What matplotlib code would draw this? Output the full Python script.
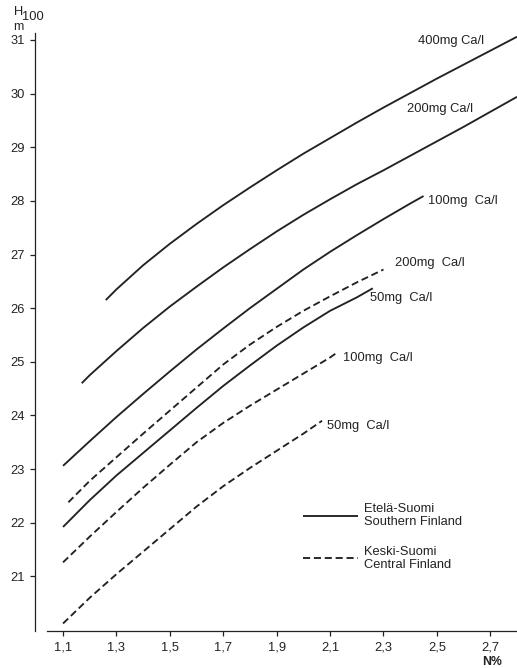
import matplotlib
matplotlib.use("Agg")
import matplotlib.pyplot as plt
from matplotlib.lines import Line2D

plt.rcParams["font.family"] = ["Liberation Sans", "DejaVu Sans"]

# Southern Finland (solid) height curves by Ca level
n_400 = [1.26, 1.3, 1.4, 1.5, 1.6, 1.7, 1.8, 1.9, 2.0, 2.1, 2.2, 2.3, 2.4, 2.5, 2.6, 2.7, 2.8]
h_400 = [26.15, 26.35, 26.8, 27.2, 27.57, 27.92, 28.25, 28.57, 28.88, 29.17, 29.46, 29.74, 30.01, 30.28, 30.54, 30.8, 31.06]

n_200 = [1.17, 1.2, 1.3, 1.4, 1.5, 1.6, 1.7, 1.8, 1.9, 2.0, 2.1, 2.2, 2.3, 2.4, 2.5, 2.6, 2.7, 2.8]
h_200 = [24.6, 24.75, 25.2, 25.63, 26.03, 26.4, 26.76, 27.1, 27.43, 27.74, 28.03, 28.31, 28.57, 28.84, 29.11, 29.38, 29.66, 29.94]

n_100 = [1.1, 1.2, 1.3, 1.4, 1.5, 1.6, 1.7, 1.8, 1.9, 2.0, 2.1, 2.2, 2.3, 2.4, 2.45]
h_100 = [23.06, 23.52, 23.97, 24.4, 24.82, 25.23, 25.62, 26.0, 26.36, 26.72, 27.05, 27.36, 27.66, 27.95, 28.09]

n_50 = [1.1, 1.2, 1.3, 1.4, 1.5, 1.6, 1.7, 1.8, 1.9, 2.0, 2.1, 2.2, 2.26]
h_50 = [21.92, 22.42, 22.88, 23.3, 23.72, 24.14, 24.55, 24.93, 25.3, 25.64, 25.95, 26.2, 26.37]

# Central Finland (dashed)
nc_200 = [1.12, 1.2, 1.3, 1.4, 1.5, 1.6, 1.7, 1.8, 1.9, 2.0, 2.1, 2.2, 2.3]
hc_200 = [22.38, 22.78, 23.22, 23.66, 24.09, 24.52, 24.95, 25.32, 25.65, 25.95, 26.22, 26.48, 26.72]

nc_100 = [1.1, 1.2, 1.3, 1.4, 1.5, 1.6, 1.7, 1.8, 1.9, 2.0, 2.1, 2.12]
hc_100 = [21.26, 21.74, 22.2, 22.65, 23.08, 23.5, 23.86, 24.18, 24.48, 24.78, 25.08, 25.15]

nc_50 = [1.1, 1.2, 1.3, 1.4, 1.5, 1.6, 1.7, 1.8, 1.9, 2.0, 2.07]
hc_50 = [20.12, 20.6, 21.04, 21.46, 21.88, 22.3, 22.68, 23.02, 23.34, 23.66, 23.9]

x_ticks = [1.1, 1.3, 1.5, 1.7, 1.9, 2.1, 2.3, 2.5, 2.7]
y_ticks = [21, 22, 23, 24, 25, 26, 27, 28, 29, 30, 31]

ink = "#222222"
fs = 9.3

fig = plt.figure(figsize=(5.17, 6.68), dpi=100)
ax = fig.add_axes([35 / 517, 1 - 631 / 668, 482 / 517, 598 / 668])

solid = dict(color=ink, lw=1.35, solid_capstyle="butt")
dashed = dict(color=ink, lw=1.35, dashes=(3.8, 2.0))

ax.plot(n_400, h_400, **solid)
ax.plot(n_200, h_200, **solid)
ax.plot(n_100, h_100, **solid)
ax.plot(n_50, h_50, **solid)
ax.plot(nc_200, hc_200, **dashed)
ax.plot(nc_100, hc_100, **dashed)
ax.plot(nc_50, hc_50, **dashed)

# curve labels
lab = dict(fontsize=fs, color=ink, ha="left", va="center")
ax.text(2.43, 30.98, "400mg Ca/l", **lab)
ax.text(2.388, 29.71, "200mg Ca/l", **lab)
ax.text(2.467, 28.0, "100mg  Ca/l", **lab)
ax.text(2.343, 26.84, "200mg  Ca/l", **lab)
ax.text(2.25, 26.19, "50mg  Ca/l", **lab)
ax.text(2.149, 25.07, "100mg  Ca/l", **lab)
ax.text(2.089, 23.80, "50mg  Ca/l", **lab)

ax.set_xlim(0.995, 2.80)
ax.set_ylim(19.98, 31.13)
ax.set_xticks(x_ticks)
ax.set_xticklabels([f"{v:.1f}".replace(".", ",") for v in x_ticks])
ax.set_yticks(y_ticks)
ax.tick_params(direction="out", length=3.5, width=0.9, color=ink,
               labelsize=fs, labelcolor=ink, pad=4)

for side in ("top", "right"):
    ax.spines[side].set_visible(False)
for side in ("left", "bottom"):
    ax.spines[side].set_color(ink)
    ax.spines[side].set_linewidth(0.9)
ax.spines["bottom"].set_bounds(1.04, 2.80)

handles = [Line2D([], [], **solid), Line2D([], [], **dashed)]
leg = ax.legend(handles, ["Etelä-Suomi\nSouthern Finland", "Keski-Suomi\nCentral Finland"],
                loc="upper left", bbox_to_anchor=(268 / 482, 1 - (503 - 33) / 598),
                frameon=False, fontsize=fs, handlelength=4.25, handletextpad=0.45,
                labelspacing=1.35, borderpad=0, borderaxespad=0, labelcolor=ink)
for t in leg.get_texts():
    t.set_linespacing(1.12)

# axis titles
fig.text(14 / 517, 1 - 12 / 668, "H", fontsize=fs, color=ink, ha="left", va="center")
fig.text(22 / 517, 1 - 17 / 668, "100", fontsize=fs, color=ink, ha="left", va="center")
fig.text(13 / 517, 1 - 27 / 668, "m", fontsize=fs - 0.5, color=ink, ha="left", va="center")
fig.text(482 / 517, 1 - 662 / 668, "N%", fontsize=fs - 0.5, color=ink, ha="left", va="center",
         fontweight="bold")

fig.savefig("out.png", dpi=100)
